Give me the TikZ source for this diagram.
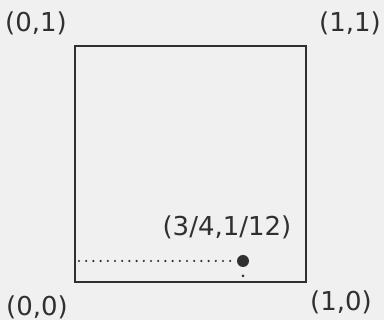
\documentclass[tikz,border=0pt]{standalone}
\usepackage{fontspec}
\setmainfont{DejaVu Sans}
\definecolor{ink}{HTML}{303030}
\definecolor{paper}{HTML}{F0F0F0}
\begin{document}
\begin{tikzpicture}[x=1pt,y=-1pt,
  lbl/.style={text=ink,font=\fontsize{26}{28}\selectfont,inner sep=0pt},
  frame/.style={draw=ink,line width=1.8pt},
  dots/.style={draw=ink,line width=2.4pt,dash pattern=on 0pt off 7.2pt,line cap=round}]
\fill[paper] (0,0) rectangle (384,320);
\useasboundingbox (0,0) rectangle (384,320);
\coordinate (sw) at (75,282);
\coordinate (ne) at (306,46);
\draw[frame] (sw) rectangle (ne);
\node[lbl] (l01) at (36,23) {(0,1)};
\node[lbl] (l11) at (350,23) {(1,1)};
\node[lbl] (l00) at (37,307) {(0,0)};
\node[lbl] (l10) at (341,302) {(1,0)};
\node[lbl] (lp) at (227,227) {(3/4,1/12)};
\node[fill=ink,circle,minimum size=12pt,inner sep=0pt] (p) at (243,261) {};
\coordinate (a) at (79,261);
\draw[dots] (a) -- (p.west);
\node[fill=ink,circle,minimum size=3pt,inner sep=0pt] (t) at (243,276) {};
\end{tikzpicture}
\end{document}
